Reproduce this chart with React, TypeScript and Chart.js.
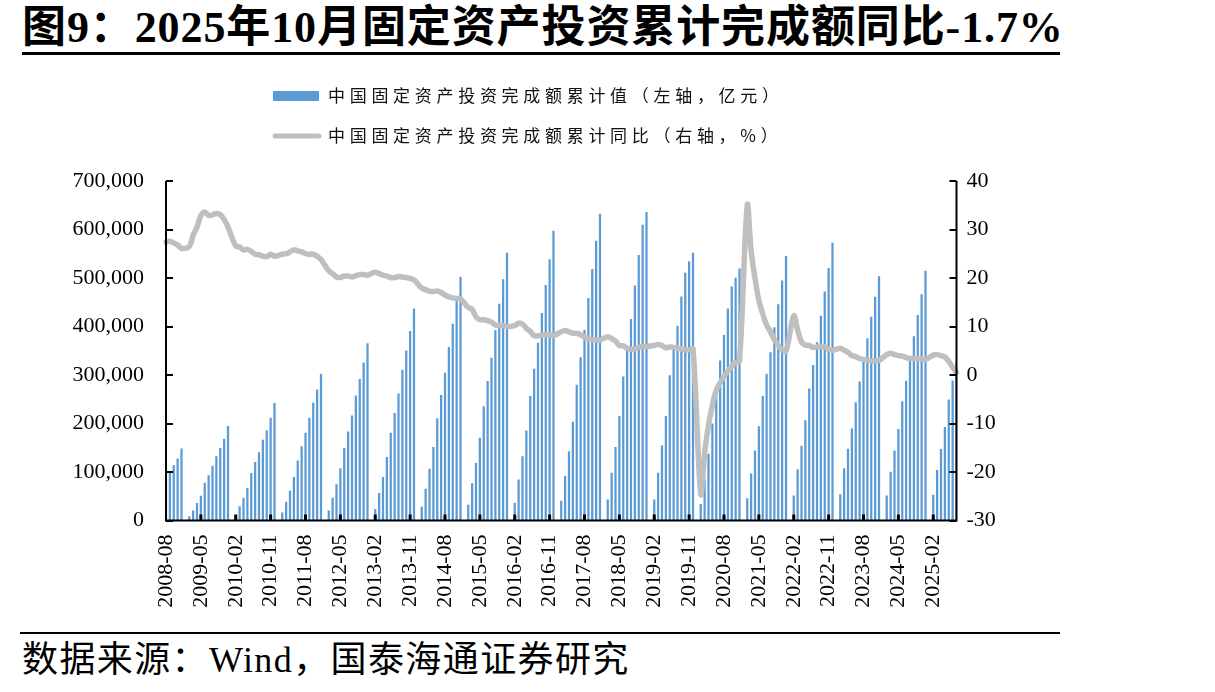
import React, { useEffect, useRef } from "react";
import { Chart, registerables } from "chart.js";

Chart.register(...registerables);

// Monthly categories, 2008-08 .. 2025-08
const FIRST_YEAR = 2008;
const FIRST_MONTH = 8;
const LAST_YEAR = 2025;
const LAST_MONTH = 8;
const months: string[] = [];
for (let y = FIRST_YEAR, m = FIRST_MONTH; y < LAST_YEAR || (y === LAST_YEAR && m <= LAST_MONTH); ) {
  months.push(`${y}-${String(m).padStart(2, "0")}`);
  m += 1;
  if (m > 12) {
    m = 1;
    y += 1;
  }
}
const LABEL_EVERY = 9;

// Cumulative fixed-asset investment, 100 million yuan (January not published)
const investCumulative: (number | null)[] = [
  84000, 99000, 113000, 127000, 148000,
  null, 8000, 20000, 35500, 50600, 77000, 92600, 112000, 132000, 149000, 168000, 194000,
  null, 10000, 28500, 46000, 66500, 97500, 120000, 140000, 165700, 185500, 211000, 241400,
  null, 16000, 38000, 61000, 89000, 123000, 152500, 180000, 211000, 242000, 269600, 301900,
  null, 20000, 46000, 74000, 107000, 149000, 183000, 216000, 257000, 291000, 325000, 364800,
  null, 23000, 56000, 89000, 130000, 180000, 221000, 261000, 310000, 350000, 390000, 436500,
  null, 27500, 65000, 106000, 151000, 210000, 258000, 304000, 357000, 405000, 453000, 502000,
  null, 32000, 76000, 118000, 170000, 235000, 287000, 335000, 392000, 446000, 497000, 551600,
  null, 35800, 84000, 132000, 185000, 256000, 312000, 366000, 427000, 485000, 538000, 596500,
  null, 40000, 91000, 142000, 203000, 279000, 336000, 392000, 458000, 518000, 576000, 631700,
  null, 42700, 98000, 151000, 215000, 296000, 353000, 415000, 484000, 547000, 609000, 635600,
  null, 42700, 98000, 154000, 215000, 299000, 357000, 401000, 461000, 510000, 533700, 551500,
  null, 33300, 84100, 136800, 199200, 271800, 329200, 382000, 436500, 482000, 500000, 518900,
  null, 45200, 96000, 143900, 193900, 255900, 302000, 346000, 397800, 445000, 494000, 544500,
  null, 50800, 104900, 153500, 206000, 271400, 319800, 367100, 421400, 471500, 520000, 572100,
  null, 53600, 107300, 147500, 188800, 243100, 285900, 327000, 375000, 419400, 460800, 503000,
  null, 50800, 100000, 143400, 188000, 245400, 287600, 329400, 379000, 423200, 465800, 514400,
  null, 52600, 103200, 147000, 191900, 248700, 288200, 326100,
];

// Cumulative year-on-year growth, %
const investYoY: (number | null)[] = [
  27.4, 27.6, 27.2, 26.8, 26.1,
  null, 26.5, 28.8, 30.5, 32.9, 33.6, 32.9, 33.0, 33.3, 33.1, 32.1, 30.5,
  null, 26.6, 26.4, 25.8, 25.9, 25.5, 24.9, 24.8, 24.5, 24.4, 24.9, 24.5,
  null, 24.9, 25.0, 25.4, 25.8, 25.6, 25.4, 25.0, 24.9, 24.9, 24.5, 23.8,
  null, 21.5, 20.9, 20.2, 20.1, 20.4, 20.4, 20.2, 20.5, 20.7, 20.7, 20.6,
  null, 21.2, 20.9, 20.6, 20.4, 20.1, 20.1, 20.3, 20.2, 20.1, 19.9, 19.6,
  null, 17.9, 17.6, 17.3, 17.2, 17.3, 17.0, 16.5, 16.1, 15.9, 15.8, 15.7,
  null, 13.9, 13.5, 12.0, 11.4, 11.4, 11.2, 10.9, 10.3, 10.2, 10.2, 10.0,
  null, 10.2, 10.7, 10.5, 9.6, 9.0, 8.1, 8.1, 8.2, 8.3, 8.3, 8.1,
  null, 8.9, 9.2, 8.9, 8.6, 8.6, 8.3, 7.8, 7.5, 7.3, 7.2, 7.2,
  null, 7.9, 7.5, 7.0, 6.1, 6.0, 5.5, 5.3, 5.4, 5.7, 5.9, 5.9,
  null, 6.1, 6.3, 6.1, 5.6, 5.8, 5.7, 5.5, 5.4, 5.2, 5.2, 5.4,
  null, -24.5, -16.1, -10.3, -6.3, -3.1, -1.6, -0.3, 0.8, 1.8, 2.6, 2.9,
  null, 35.0, 25.6, 19.9, 15.4, 12.6, 10.3, 8.9, 7.3, 6.1, 5.2, 4.9,
  null, 12.2, 9.3, 6.8, 6.2, 6.1, 5.7, 5.8, 5.9, 5.8, 5.3, 5.1,
  null, 5.5, 5.1, 4.7, 4.0, 3.8, 3.4, 3.2, 3.1, 2.9, 2.9, 3.0,
  null, 4.2, 4.5, 4.2, 4.0, 3.9, 3.6, 3.4, 3.4, 3.4, 3.3, 3.2,
  null, 4.1, 4.2, 4.0, 3.7, 2.8, 1.6, 0.5,
];

const BAR_LABEL = "中国固定资产投资完成额累计值（左轴，亿元）";
const LINE_LABEL = "中国固定资产投资完成额累计同比（右轴，%）";
const TITLE = "图9：2025年10月固定资产投资累计完成额同比-1.7%";
const SOURCE = "数据来源：Wind，国泰海通证券研究";

const BAR_COLOR = "#5B9BD5";
const LINE_COLOR = "#BFBFBF";
const SERIF = '"Liberation Serif", "Times New Roman", serif';
const CJK = '"Noto Sans CJK SC", sans-serif';

const CANVAS_W = 1215;
const CANVAS_H = 570;

// Axis lines and inward tick marks
const axisDecor = {
  id: "axisDecor",
  afterDatasetsDraw(chart: any) {
    const { ctx, chartArea, scales } = chart;
    const { left, right, top, bottom } = chartArea;
    ctx.save();
    ctx.strokeStyle = "#000";
    ctx.lineWidth = 2;
    ctx.beginPath();
    ctx.moveTo(left, top);
    ctx.lineTo(left, bottom);
    ctx.moveTo(right, top);
    ctx.lineTo(right, bottom);
    ctx.moveTo(left - 1, bottom);
    ctx.lineTo(right + 1, bottom);
    ctx.stroke();

    const yL = scales.y;
    yL.ticks.forEach((t: any) => {
      const py = Math.round(yL.getPixelForValue(t.value));
      ctx.beginPath();
      ctx.moveTo(left, py);
      ctx.lineTo(left + 7, py);
      ctx.stroke();
    });
    const yR = scales.y1;
    yR.ticks.forEach((t: any) => {
      const py = Math.round(yR.getPixelForValue(t.value));
      ctx.beginPath();
      ctx.moveTo(right, py);
      ctx.lineTo(right - 7, py);
      ctx.stroke();
    });
    const x = scales.x;
    ctx.lineWidth = 3;
    months.forEach((_m, i) => {
      if (i % LABEL_EVERY !== 0 || i === 0) return;
      const px = x.getPixelForValue(i);
      ctx.beginPath();
      ctx.moveTo(px, bottom);
      ctx.lineTo(px, bottom - 6);
      ctx.stroke();
    });
    ctx.restore();
  },
};

// Two-row legend above the plot
const stackedLegend = {
  id: "stackedLegend",
  afterDraw(chart: any) {
    const { ctx } = chart;
    const ds = chart.data.datasets;
    ctx.save();
    ctx.fillStyle = BAR_COLOR;
    ctx.fillRect(273, 31, 46, 10);
    ctx.strokeStyle = LINE_COLOR;
    ctx.lineWidth = 5;
    ctx.lineCap = "round";
    ctx.beginPath();
    ctx.moveTo(275, 76);
    ctx.lineTo(319, 76);
    ctx.stroke();
    ctx.fillStyle = "#111";
    ctx.font = `17px ${CJK}`;
    ctx.textBaseline = "middle";
    ctx.textAlign = "left";
    (ctx as any).letterSpacing = "4.7px";
    ctx.fillText(ds[0].label, 328, 36);
    ctx.fillText(ds[1].label, 328, 76);
    ctx.restore();
  },
};

export default function App() {
  const canvasRef = useRef<HTMLCanvasElement>(null);

  useEffect(() => {
    const canvas = canvasRef.current;
    if (!canvas) return;
    const chart = new Chart(canvas, {
      type: "bar",
      data: {
        labels: months,
        datasets: [
          {
            type: "bar",
            label: BAR_LABEL,
            data: investCumulative,
            backgroundColor: BAR_COLOR,
            barThickness: 1.6,
            yAxisID: "y",
            order: 2,
          },
          {
            type: "line",
            label: LINE_LABEL,
            data: investYoY,
            borderColor: LINE_COLOR,
            borderWidth: 5.5,
            pointRadius: 0,
            tension: 0.35,
            spanGaps: true,
            borderCapStyle: "round",
            borderJoinStyle: "round",
            yAxisID: "y1",
            order: 1,
          },
        ] as any,
      },
      options: {
        animation: false,
        responsive: false,
        devicePixelRatio: 1,
        layout: { padding: { top: 121, left: 0, right: 0, bottom: 0 } },
        plugins: {
          legend: { display: false },
          tooltip: { enabled: false },
        },
        scales: {
          x: {
            type: "category",
            offset: false,
            grid: { display: false, drawTicks: false, offset: false },
            border: { display: false },
            ticks: {
              autoSkip: false,
              minRotation: 90,
              maxRotation: 90,
              padding: 14,
              color: "#000",
              font: { family: SERIF, size: 22 },
              callback: (_v: any, i: number) => (i % LABEL_EVERY === 0 ? months[i] : ""),
            },
            afterFit: (s: any) => {
              s.height = 109.5;
            },
          },
          y: {
            position: "left",
            min: 0,
            max: 700000,
            grid: { display: false, drawTicks: false },
            border: { display: false },
            ticks: {
              stepSize: 100000,
              padding: 22,
              color: "#000",
              font: { family: SERIF, size: 22 },
              callback: (v: any) => Number(v).toLocaleString("en-US"),
            },
            afterFit: (s: any) => {
              s.width = 166;
            },
          },
          y1: {
            position: "right",
            min: -30,
            max: 40,
            grid: { display: false, drawTicks: false },
            border: { display: false },
            ticks: {
              stepSize: 10,
              padding: 10,
              color: "#000",
              font: { family: SERIF, size: 22 },
            },
            afterFit: (s: any) => {
              s.width = 258.5;
            },
          },
        },
      } as any,
      plugins: [axisDecor, stackedLegend],
    });
    return () => chart.destroy();
  }, []);

  return (
    <div
      style={{
        position: "absolute",
        left: 0,
        top: 0,
        width: 1215,
        height: 692,
        background: "#fff",
        overflow: "hidden",
      }}
    >
      <div
        style={{
          position: "absolute",
          left: 22,
          top: 3,
          lineHeight: "50px",
          fontSize: 44,
          fontWeight: 700,
          letterSpacing: "0.9px",
          fontFamily: `"Liberation Serif", "Noto Sans CJK SC", serif`,
          whiteSpace: "nowrap",
          color: "#000",
        }}
      >
        {TITLE}
      </div>
      <div style={{ position: "absolute", left: 22, top: 52, width: 1038, height: 3, background: "#000" }} />
      <canvas
        ref={canvasRef}
        width={CANVAS_W}
        height={CANVAS_H}
        style={{ position: "absolute", left: 0, top: 60, width: CANVAS_W, height: CANVAS_H }}
      />
      <div style={{ position: "absolute", left: 20, top: 632, width: 1040, height: 2, background: "#000" }} />
      <div
        style={{
          position: "absolute",
          left: 22,
          top: 640,
          lineHeight: "40px",
          fontSize: 36,
          letterSpacing: "1.4px",
          fontFamily: `"Liberation Serif", "Noto Sans CJK SC", serif`,
          whiteSpace: "nowrap",
          color: "#000",
        }}
      >
        {SOURCE}
      </div>
    </div>
  );
}
